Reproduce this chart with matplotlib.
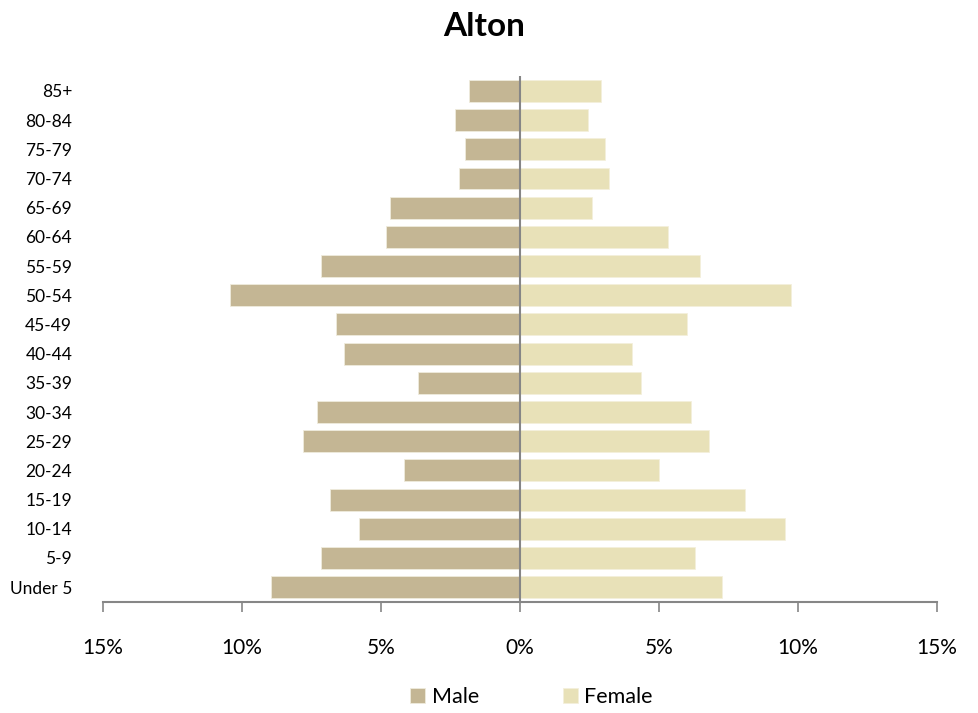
import matplotlib
matplotlib.use("Agg")
import matplotlib.pyplot as plt
from matplotlib.ticker import FuncFormatter

age_groups = ["Under 5", "5-9", "10-14", "15-19", "20-24", "25-29", "30-34", "35-39",
              "40-44", "45-49", "50-54", "55-59", "60-64", "65-69", "70-74", "75-79",
              "80-84", "85+"]
male = [8.94, 7.14, 5.80, 6.83, 4.15, 7.80, 7.30, 3.68, 6.31, 6.61, 10.42, 7.14,
        4.82, 4.67, 2.19, 1.99, 2.35, 1.83]
female = [7.28, 6.30, 9.55, 8.11, 5.02, 6.82, 6.15, 4.34, 4.03, 6.00, 9.75, 6.47,
          5.32, 2.60, 3.21, 3.06, 2.44, 2.91]
x_ticks = [-15, -10, -5, 0, 5, 10, 15]
title = "Alton"

plt.rcParams['font.family'] = ['Lato', 'DejaVu Sans']

fig = plt.figure(figsize=(9.79, 7.13), dpi=100)
ax = fig.add_axes([0.105, 0.156, 0.852, 0.737])

y = list(range(len(age_groups)))
male_c = "#C4B694"
female_c = "#E8E1B8"
ax.barh(y, [-m for m in male], height=0.75, color=male_c, edgecolor="#EFEBDD",
        linewidth=0.6, label="Male")
ax.barh(y, female, height=0.75, color=female_c, edgecolor="#F4F0DC",
        linewidth=0.6, label="Female")

ax.set_xlim(-15, 15)
ax.set_ylim(-0.5, len(age_groups) - 0.5)
ax.set_yticks(y)
ax.set_yticklabels(age_groups, fontsize=12.5)
ax.tick_params(axis="y", length=0, pad=22)
ax.set_xticks(x_ticks)
ax.xaxis.set_major_formatter(FuncFormatter(lambda v, p: f"{abs(int(round(v)))}%"))
ax.tick_params(axis="x", length=7, width=1.2, color="#868686", direction="out",
               pad=19, labelsize=15)

for s in ["top", "right", "left"]:
    ax.spines[s].set_visible(False)
ax.spines["bottom"].set_color("#868686")
ax.spines["bottom"].set_linewidth(1.5)
ax.axvline(0, color="#868686", linewidth=1.5, zorder=3)

fig.text(0.495, 0.963, title, ha="center", va="center", fontsize=24, fontweight="bold")

leg = fig.legend(loc="center", bbox_to_anchor=(0.543, 0.022), ncol=2, frameon=False,
                 fontsize=15.5, handlelength=0.7, handleheight=0.7, handletextpad=0.3,
                 columnspacing=3.9)

fig.savefig("out.png", dpi=100)
